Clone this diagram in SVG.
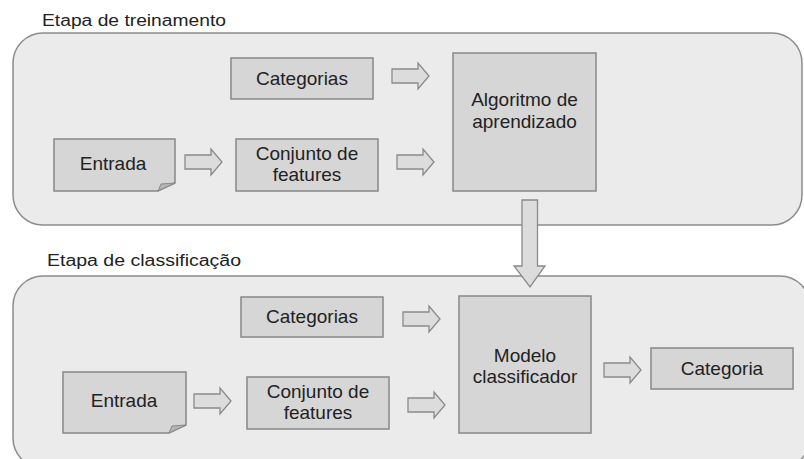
<svg xmlns="http://www.w3.org/2000/svg" width="804" height="459" viewBox="0 0 804 459">
<style>
.panel{fill:#ebebeb;stroke:#8c8c8c;stroke-width:1.5}
.box{fill:#d6d6d6;stroke:#888;stroke-width:1.5}
.arr{fill:#dcdcdc;stroke:#8a8a8a;stroke-width:1.3}
.fold{fill:#b5b5b5;stroke:#888;stroke-width:1}
.t{font-family:"Liberation Sans",Arial,sans-serif;font-size:19px;fill:#222;text-anchor:middle}
.title{font-family:"Liberation Sans",Arial,sans-serif;font-size:16px;fill:#222}
</style>
<defs>
<path id="ra" d="M0,-7 H26 V-13 L37,0 L26,13 V7 H0 Z"/>
</defs>
<rect width="804" height="459" fill="#ffffff"/>
<g id="stage-train">
<text class="title" x="42" y="26" textLength="184" lengthAdjust="spacingAndGlyphs">Etapa de treinamento</text>
<rect class="panel" x="13" y="33" width="789" height="192" rx="30"/>
</g>
<g id="stage-classify">
<text class="title" x="47" y="266" textLength="194" lengthAdjust="spacingAndGlyphs">Etapa de classificação</text>
<rect class="panel" x="13" y="276" width="797" height="192" rx="30"/>
</g>
<g id="t-categorias">
<rect class="box" x="231" y="58" width="142" height="41"/>
<text class="t" x="302" y="85">Categorias</text>
</g>
<g id="t-entrada">
<path class="box" d="M54,139 H175 V183 L158,191 H54 Z"/>
<path class="fold" d="M175,183 L158,191 L161,184 Z"/>
<text class="t" x="113" y="170">Entrada</text>
</g>
<g id="t-conjunto">
<rect class="box" x="236" y="139" width="142" height="52"/>
<text class="t" x="307" y="160">Conjunto de</text>
<text class="t" x="307" y="181">features</text>
</g>
<g id="t-algoritmo">
<rect class="box" x="453" y="53" width="143" height="138"/>
<text class="t" x="524.5" y="106">Algoritmo de</text>
<text class="t" x="524.5" y="128">aprendizado</text>
</g>
<g id="c-categorias">
<rect class="box" x="241" y="297" width="142" height="40"/>
<text class="t" x="312" y="323">Categorias</text>
</g>
<g id="c-entrada">
<path class="box" d="M63,372 H186 V425 L169,433 H63 Z"/>
<path class="fold" d="M186,425 L169,433 L172,426 Z"/>
<text class="t" x="124" y="407">Entrada</text>
</g>
<g id="c-conjunto">
<rect class="box" x="247" y="377" width="142" height="52"/>
<text class="t" x="318" y="398">Conjunto de</text>
<text class="t" x="318" y="419">features</text>
</g>
<g id="c-modelo">
<rect class="box" x="459" y="296" width="132" height="137"/>
<text class="t" x="525" y="362">Modelo</text>
<text class="t" x="525" y="383">classificador</text>
</g>
<g id="c-categoria">
<rect class="box" x="651" y="348" width="142" height="41"/>
<text class="t" x="722" y="375">Categoria</text>
</g>
<g id="connectors">
<use href="#ra" class="arr" transform="translate(185,162)"/>
<use href="#ra" class="arr" transform="translate(392,76)"/>
<use href="#ra" class="arr" transform="translate(397,162)"/>
<use href="#ra" class="arr" transform="translate(194,401)"/>
<use href="#ra" class="arr" transform="translate(403,319)"/>
<use href="#ra" class="arr" transform="translate(408,405)"/>
<use href="#ra" class="arr" transform="translate(604,370)"/>
<path class="arr" d="M522,200 H537.5 V266 H545 L530,287 L514,266 H522 Z"/>
</g>
</svg>
